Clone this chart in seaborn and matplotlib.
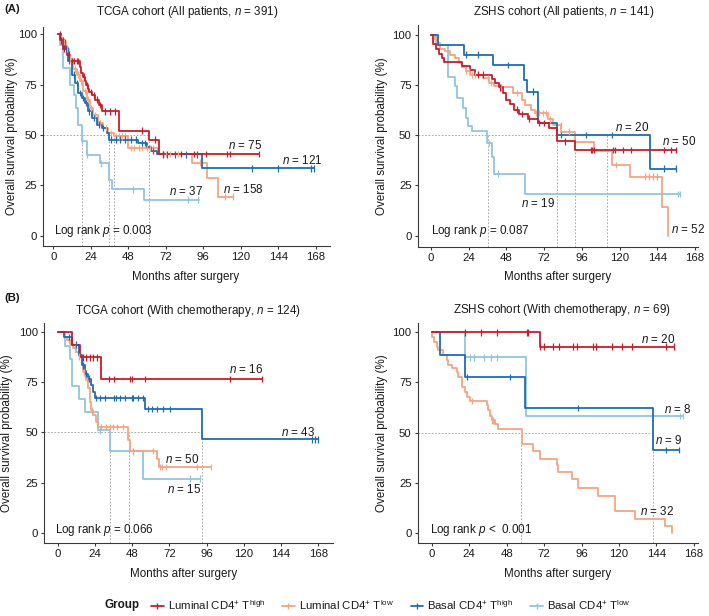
import numpy as np
import pandas as pd
import matplotlib
matplotlib.use("Agg")
import matplotlib.pyplot as plt
from matplotlib.lines import Line2D
import seaborn as sns

# ------------------------------------------------------------------ data
group_keys = ["LH", "LL", "BH", "BL"]
group_labels = [r"Luminal CD4$^{+}$ T$^{\mathrm{high}}$",
                r"Luminal CD4$^{+}$ T$^{\mathrm{low}}$",
                r"Basal CD4$^{+}$ T$^{\mathrm{high}}$",
                r"Basal CD4$^{+}$ T$^{\mathrm{low}}$"]
group_colors = ["#C91D2B", "#F4A582", "#1F6DB3", "#92C5DE"]

x_ticks = [0, 24, 48, 72, 96, 120, 144, 168]
y_ticks = [0, 25, 50, 75, 100]

panel_titles = [r"TCGA cohort (All patients, $\it{n}$ = 391)",
                r"ZSHS cohort (All patients, $\it{n}$ = 141)",
                r"TCGA cohort (With chemotherapy, $\it{n}$ = 124)",
                r"ZSHS cohort (With chemotherapy, $\it{n}$ = 69)"]
panel_pvalues = [r"Log rank $\it{p}$ = 0.003", r"Log rank $\it{p}$ = 0.087",
                 r"Log rank $\it{p}$ = 0.066", r"Log rank $\it{p}$ <  0.001"]

# --- TCGA, all patients
tcga_all_lh_t = [3, 4.5, 6, 9, 11, 17, 18, 19, 20, 21, 22, 23, 25, 27, 29, 31, 42, 61.3, 68, 132]
tcga_all_lh_s = [100, 97, 93, 90, 86.7, 84, 81, 79, 77, 75, 73, 71.5, 70, 67.6, 65, 61.8, 52.2, 47.7, 40.5, 40.5]
tcga_all_lh_c = [4, 5, 7, 10, 12, 13, 15, 16, 19.5, 21.5, 24, 26, 28, 30, 33, 36, 39.5, 56.5, 65, 70, 82, 90, 98, 111.5, 113, 132]
tcga_all_ll_t = [3, 5, 6.4, 8, 10, 12.8, 15, 17, 19.2, 21.4, 23.5, 25.6, 28.8, 32, 35.2, 38.9, 48, 67, 88.6, 98.2, 105.6, 115]
tcga_all_ll_s = [100, 98, 96.6, 93, 88, 83, 80, 76.7, 71.8, 67.6, 63.5, 60.1, 56, 53.5, 51, 49.4, 43.6, 40.5, 36.3, 28.5, 19.4, 19.4]
tcga_all_ll_c = [5, 7, 9, 11, 14, 16, 18, 20, 22, 24, 27, 30, 34, 37, 40, 42, 44, 46, 50, 52, 55, 57, 60, 62, 64, 70, 72, 75, 80, 94, 110, 115]
tcga_all_bh_t = [3, 5, 7.5, 9.6, 11.8, 13.9, 16, 18.2, 20.3, 22.4, 24.6, 27.8, 31, 34.2, 35.9, 54.4, 60.3, 62.4, 66.2, 95, 167]
tcga_all_bh_s = [100, 97, 93.3, 86.7, 80, 75.9, 70.9, 68.4, 66, 61.8, 58.5, 55.2, 53.5, 51, 47.7, 46, 44, 42, 40.4, 33.5, 33.5]
tcga_all_bh_c = [6, 8, 10, 13, 15, 17, 19, 21, 23, 26, 29, 32, 37, 40, 43, 46, 50, 53, 57, 59, 64, 70, 73, 78, 85, 92, 127, 144, 165, 167]
tcga_all_bl_t = [3, 4.5, 6, 10.7, 13.5, 14.7, 16, 18.2, 21.5, 29.9, 35.7, 37.3, 58, 93]
tcga_all_bl_s = [100, 95, 83.3, 75, 70, 63.5, 55, 47, 40.3, 36, 27.8, 23, 17.9, 17.9]
tcga_all_bl_c = [18.5, 21.8, 30.5, 51.2, 86.4, 92.8]
tcga_all_n = [75, 158, 121, 37]
tcga_all_medians = [18.2, 35.9, 38.9, 61.3]

# --- ZSHS, all patients
zshs_all_lh_t = [0, 1.5, 3, 5, 7, 8.5, 20, 24.8, 28, 38.6, 41, 43, 46, 48, 50, 53, 56, 62, 68, 75, 80.4, 91.6, 156]
zshs_all_lh_s = [100, 95.4, 93, 90.4, 88.4, 86.4, 84.5, 82.5, 80.1, 78.1, 76, 73.8, 71, 67.7, 65.5, 62.7, 60.5, 58.2, 56, 53.6, 46.9, 42.5, 42.5]
zshs_all_lh_c = [30, 33, 44, 55, 58, 62.5, 69, 72, 85, 101.5, 102.5, 103.6, 115.8, 117, 122, 127, 148, 152.5, 156]
zshs_all_ll_t = [0, 2, 4, 6, 9, 12, 15, 18, 20, 22, 25, 33, 37, 40, 44, 52, 57.7, 60, 63.6, 66, 74.7, 77.9, 83, 91.6, 104, 115, 126.6, 146.8, 151]
zshs_all_ll_s = [100, 98, 95.7, 93, 91.7, 90, 88.5, 86, 84, 82, 80, 78.4, 76, 74.5, 73.8, 71, 67.7, 65, 62.7, 60.9, 57.9, 55, 51.8, 46.8, 42, 35.2, 29.4, 14.4, 0]
zshs_all_ll_c = [22, 24, 26, 28, 36, 38, 44.5, 55, 67, 69, 71, 73, 76, 82.5, 88, 118, 136, 139, 141.5, 144]
zshs_all_bh_t = [0, 4.7, 21.2, 39.7, 59.4, 61, 68.3, 80.4, 139.4, 156]
zshs_all_bh_s = [100, 95, 90, 85, 77.6, 71.7, 56, 50, 33.3, 33.3]
zshs_all_bh_c = [22.3, 29.7, 49, 65, 83, 98.6, 115, 148, 156]
zshs_all_bl_t = [0, 3, 10.5, 15.3, 16.3, 20.6, 22, 23.8, 25.9, 35.8, 38.6, 40.3, 59.8, 158.5]
zshs_all_bl_s = [100, 94.7, 78.9, 74.3, 68.5, 63.6, 58.6, 54.5, 52.3, 46.1, 39.3, 30.8, 20.6, 20.6]
zshs_all_bl_c = [37, 42.8, 157, 158.5]
zshs_all_n = [50, 52, 20, 19]
zshs_all_medians = [36.0, 80.4, 91.6, 111.8]

# --- TCGA, with chemotherapy
tcga_chemo_lh_t = [0, 9, 14.2, 27.8, 131.5]
tcga_chemo_lh_s = [100, 93.8, 87.5, 76.6, 76.6]
tcga_chemo_lh_c = [16.5, 18.5, 21, 23, 25.5, 33.3, 36.3, 46.6, 47.7, 56.3, 111, 131.5]
tcga_chemo_ll_t = [0, 4.7, 6, 8, 10, 12, 13.7, 15.5, 16.5, 18, 19.8, 20.8, 21.5, 23, 24.7, 26.2, 45.5, 46.5, 64.2, 65.3, 99]
tcga_chemo_ll_s = [100, 97.8, 96, 94, 92, 90, 88, 84, 80, 76, 72, 65.2, 61, 58.6, 55.2, 52.6, 46.4, 40.8, 37, 32.8, 32.8]
tcga_chemo_ll_c = [7, 11, 14, 17, 19, 22, 25.5, 28, 31, 34, 36, 38, 42, 48.8, 61.7, 66, 67.5, 70, 89.6, 99]
tcga_chemo_bh_t = [0, 4, 9, 13.7, 15.5, 17.6, 19.8, 21.3, 23, 24, 56.3, 92.8, 168]
tcga_chemo_bh_s = [100, 97.7, 93.8, 88.5, 83.5, 79.4, 76.9, 73.5, 70, 67.2, 61.6, 46.6, 46.6]
tcga_chemo_bh_c = [7, 12, 16.5, 18.5, 20.5, 24.5, 27.3, 30.5, 36.5, 37.6, 40.2, 43.4, 47.7, 48.8, 52, 55.2, 58.4, 60.6, 63.8, 68, 72.4, 163.7, 165.8, 168]
tcga_chemo_bl_t = [0, 5, 8, 9.3, 13.7, 17.6, 26.2, 33.7, 55.2, 91.7]
tcga_chemo_bl_s = [100, 93.3, 86.7, 73.3, 66.7, 60, 51, 40.5, 27, 27]
tcga_chemo_bl_c = [27.5, 48.8, 85.3, 91.7]
tcga_chemo_n = [16, 50, 43, 15]
tcga_chemo_medians = [33.7, 45.8, 93.0]

# --- ZSHS, with chemotherapy
zshs_chemo_lh_t = [0, 69.2, 155.4]
zshs_chemo_lh_s = [100, 92.9, 92.9]
zshs_chemo_lh_c = [21.3, 31.6, 41.6, 60.8, 61.5, 69.5, 72.1, 77.9, 81.5, 90.7, 92.8, 103.5, 105, 115.7, 121.7, 128, 149.8, 155.4]
zshs_chemo_ll_t = [0, 0.4, 1.7, 3.2, 4.3, 7.5, 9.6, 10.7, 12.8, 16, 17.1, 19.2, 19.6, 21.3, 22.4, 24.5, 35.2, 36.3, 37.4, 38.4, 40.6, 42.3, 57.6, 65.1, 69.4, 80, 81.1, 89.6, 93.9, 106.3, 117.4, 130.2, 149.4, 153.7]
zshs_chemo_ll_s = [100, 97.7, 95, 92.7, 91, 88.6, 86, 83.6, 82, 80.3, 77.8, 75.3, 72.8, 70.3, 67.8, 65.8, 63.7, 61.2, 58.2, 56.2, 54.6, 52, 44.6, 40.8, 37.1, 33.8, 30.5, 26.9, 22.6, 18.6, 10.9, 7.3, 3.6, 0]
zshs_chemo_ll_c = [25.6, 38.8, 39.5]
zshs_chemo_bh_t = [0, 5.3, 21.3, 59.8, 142, 158.4]
zshs_chemo_bh_s = [100, 88.9, 77.8, 62.2, 41.5, 41.5]
zshs_chemo_bh_c = [22.4, 50.2, 93.9, 149.8, 158.4]
zshs_chemo_bl_t = [0, 21.3, 60.4, 161]
zshs_chemo_bl_s = [100, 87.5, 58.3, 58.3]
zshs_chemo_bl_c = [24.3, 27, 33.5, 37.8, 42, 159, 161]
zshs_chemo_n = [20, 32, 9, 8]
zshs_chemo_medians = [57.2, 141.5]

# ------------------------------------------------------------------ style
sns.set_theme(style="ticks")
plt.rcParams["font.family"] = ["Liberation Sans", "DejaVu Sans"]
plt.rcParams["mathtext.fontset"] = "custom"
plt.rcParams["mathtext.rm"] = "Liberation Sans"
plt.rcParams["mathtext.it"] = "Liberation Sans:italic"
plt.rcParams["mathtext.bf"] = "Liberation Sans:bold"

W, H = 709, 616
fig = plt.figure(figsize=(W / 100, H / 100), dpi=100)
TXT = "#1a1a1a"
AX = "#3a3a3a"
FS = 8.4

panels = [
    dict(curves={"LH": (tcga_all_lh_t, tcga_all_lh_s, tcga_all_lh_c),
                 "LL": (tcga_all_ll_t, tcga_all_ll_s, tcga_all_ll_c),
                 "BH": (tcga_all_bh_t, tcga_all_bh_s, tcga_all_bh_c),
                 "BL": (tcga_all_bl_t, tcga_all_bl_s, tcga_all_bl_c)},
         n=tcga_all_n, med=tcga_all_medians,
         box=(43.3, 330, 27, 246), xlim=(-6.4, 177.2), ylim=(-5.1, 103.7),
         title_xy=(187, 12.3), ylab_x=11.7, xlab_xy=(185.5, 277.3),
         npos={"LH": (111.6, 44.7), "LL": (108.4, 23.0), "BH": (146.2, 37.6), "BL": (74.3, 21.9)},
         ppos=(0.6, 2.5)),
    dict(curves={"LH": (zshs_all_lh_t, zshs_all_lh_s, zshs_all_lh_c),
                 "LL": (zshs_all_ll_t, zshs_all_ll_s, zshs_all_ll_c),
                 "BH": (zshs_all_bh_t, zshs_all_bh_s, zshs_all_bh_c),
                 "BL": (zshs_all_bl_t, zshs_all_bl_s, zshs_all_bl_c)},
         n=zshs_all_n, med=zshs_all_medians,
         box=(417.7, 698, 25, 246.7), xlim=(-8.5, 169.9), ylim=(-5.5, 104.8),
         title_xy=(563.3, 12.3), ylab_x=381.7, xlab_xy=(557.5, 277.3),
         npos={"LH": (147.2, 46.8), "LL": (152.7, 3.2), "BH": (117.1, 53.7), "BL": (57.3, 15.8)},
         ppos=(0.0, 2.5)),
    dict(curves={"LH": (tcga_chemo_lh_t, tcga_chemo_lh_s, tcga_chemo_lh_c),
                 "LL": (tcga_chemo_ll_t, tcga_chemo_ll_s, tcga_chemo_ll_c),
                 "BH": (tcga_chemo_bh_t, tcga_chemo_bh_s, tcga_chemo_bh_c),
                 "BL": (tcga_chemo_bl_t, tcga_chemo_bl_s, tcga_chemo_bl_c)},
         n=tcga_chemo_n, med=tcga_chemo_medians,
         box=(44.3, 333, 323, 543.3), xlim=(-8.6, 177.5), ylim=(-5.3, 104.6),
         title_xy=(188.3, 310.7), ylab_x=7.5, xlab_xy=(183.8, 574),
         npos={"LH": (110.6, 81.5), "LL": (69.2, 36.6), "BH": (143.9, 49.9), "BL": (70.2, 21.3)},
         ppos=(-1.7, 1.3)),
    dict(curves={"LH": (zshs_chemo_lh_t, zshs_chemo_lh_s, zshs_chemo_lh_c),
                 "LL": (zshs_chemo_ll_t, zshs_chemo_ll_s, zshs_chemo_ll_c),
                 "BH": (zshs_chemo_bh_t, zshs_chemo_bh_s, zshs_chemo_bh_c),
                 "BL": (zshs_chemo_bl_t, zshs_chemo_bl_s, zshs_chemo_bl_c)},
         n=zshs_chemo_n, med=zshs_chemo_medians,
         box=(417.7, 698, 323, 543.3), xlim=(-9.0, 170.6), ylim=(-5.0, 104.6),
         title_xy=(562.5, 310.0), ylab_x=381.7, xlab_xy=(557.8, 574),
         npos={"LH": (134.0, 96.5), "LL": (133.4, 10.8), "BH": (143.0, 46.1), "BL": (149.0, 61.7)},
         ppos=(-1.0, 1.7)),
]

palette = dict(zip(group_keys, group_colors))
draw_order = ["BL", "LL", "BH", "LH"]


def step_at(t, s, x):
    t = np.asarray(t, float)
    s = np.asarray(s, float)
    idx = np.clip(np.searchsorted(t, np.asarray(x, float), side="right") - 1, 0, len(s) - 1)
    return s[idx]


for p, title, pval in zip(panels, panel_titles, panel_pvalues):
    x0, x1, yt, yb = p["box"]
    ax = fig.add_axes([x0 / W, 1 - yb / H, (x1 - x0) / W, (yb - yt) / H])
    ax.set_facecolor("none")

    # median reference lines
    med = p["med"]
    ax.plot([p["xlim"][0], max(med)], [50, 50], ls=(0, (2, 2)), color="#9a9a9a", lw=0.6, zorder=1)
    for m in med:
        ax.plot([m, m], [p["ylim"][0], 50], ls=(0, (2, 2)), color="#9a9a9a", lw=0.6, zorder=1)

    rows, crow = [], []
    for g in draw_order:
        t, s, c = p["curves"][g]
        rows += [{"t": a, "s": b, "g": g} for a, b in zip(t, s)]
        crow += [{"t": a, "s": b, "g": g} for a, b in zip(c, step_at(t, s, c))]
    df = pd.DataFrame(rows)
    dfc = pd.DataFrame(crow)
    sns.lineplot(data=df, x="t", y="s", hue="g", hue_order=draw_order, palette=palette,
                 estimator=None, sort=False, drawstyle="steps-post", linewidth=1.3,
                 legend=False, ax=ax, zorder=3)
    sns.scatterplot(data=dfc, x="t", y="s", hue="g", hue_order=draw_order, palette=palette,
                    marker="|", s=22, linewidth=0.9, legend=False, ax=ax, zorder=4)

    for g, n in zip(group_keys, p["n"]):
        tx, ty = p["npos"][g]
        ax.text(tx, ty, r"$\it{n}$ = %d" % n, fontsize=FS, color=TXT, ha="left", va="center")
    ax.text(p["ppos"][0], p["ppos"][1], pval, fontsize=FS, color=TXT, ha="left", va="center")

    ax.set_xlim(*p["xlim"])
    ax.set_ylim(*p["ylim"])
    ax.set_xticks(x_ticks)
    ax.set_yticks(y_ticks)
    ax.set_xlabel("")
    ax.set_ylabel("")
    for side in ["top", "right"]:
        ax.spines[side].set_visible(False)
    for side in ["left", "bottom"]:
        ax.spines[side].set_color(AX)
        ax.spines[side].set_linewidth(0.8)
    ax.tick_params(axis="both", direction="out", length=2.4, width=0.8, color=AX,
                   labelsize=8.2, labelcolor=TXT, pad=2)

    fig.text(p["title_xy"][0] / W, 1 - p["title_xy"][1] / H, title, ha="center", va="center",
             fontsize=FS, color=TXT)
    fig.text(p["ylab_x"] / W, 1 - (yt + yb) / 2 / H, "Overall survival probability (%)",
             rotation=90, ha="center", va="center", fontsize=FS, color=TXT)
    fig.text(p["xlab_xy"][0] / W, 1 - p["xlab_xy"][1] / H, "Months after surgery",
             ha="center", va="center", fontsize=FS, color=TXT)

fig.text(4 / W, 1 - 9 / H, "(A)", fontsize=8.2, fontweight="bold", ha="left", va="center", color=TXT)
fig.text(4 / W, 1 - 298 / H, "(B)", fontsize=8.2, fontweight="bold", ha="left", va="center", color=TXT)

# legend
fig.text(104.6 / W, 1 - 605 / H, "Group", fontsize=FS, fontweight="bold", ha="left", va="center", color=TXT)
handles = [Line2D([], [], color=c, lw=1.3, marker="|", markersize=5, markeredgewidth=1.0)
           for c in group_colors]
fig.legend(handles, group_labels, loc="center left", bbox_to_anchor=(151 / W, 1 - 605 / H),
           ncol=4, frameon=False, fontsize=8.2, handlelength=1.1, handletextpad=0.35,
           columnspacing=1.5, borderaxespad=0, borderpad=0, labelcolor=TXT)

fig.savefig("out.png", dpi=100)
